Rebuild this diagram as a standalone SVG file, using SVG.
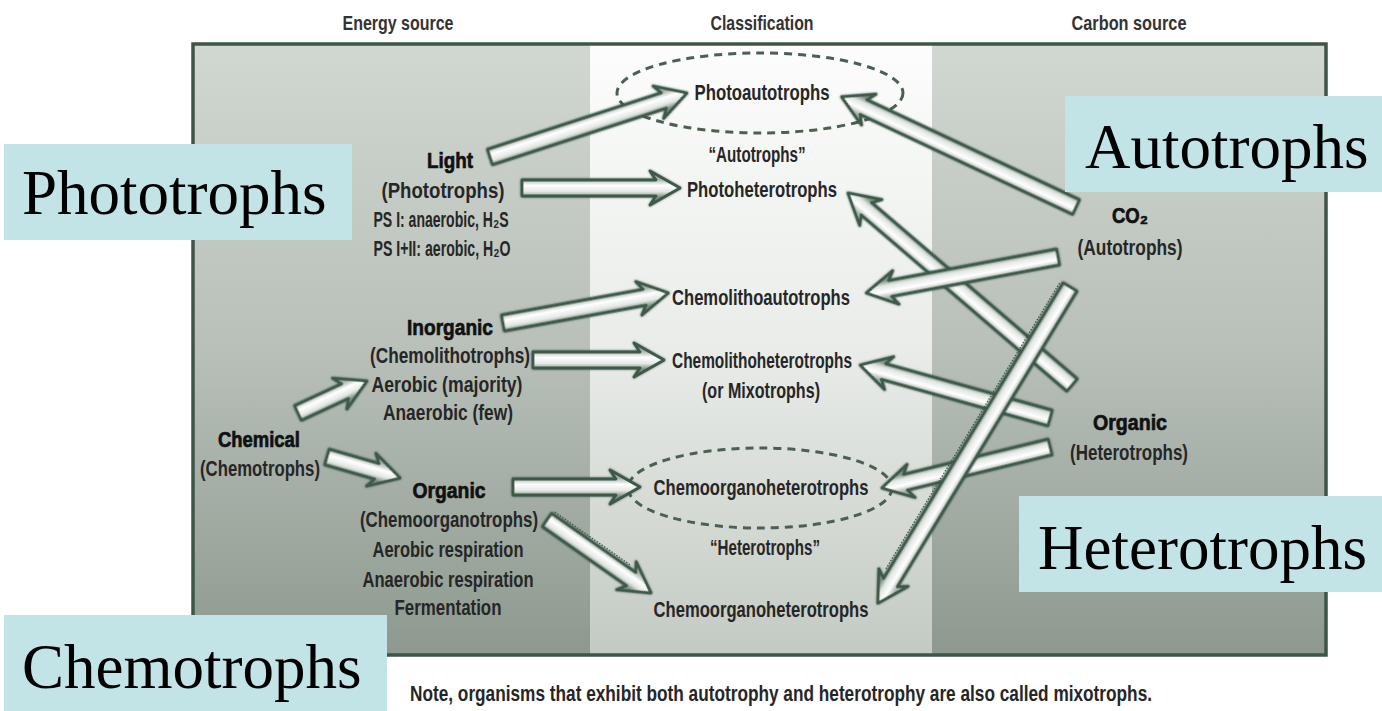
<svg xmlns="http://www.w3.org/2000/svg" width="1382" height="711" viewBox="0 0 1382 711">
<defs>
<linearGradient id="gSide" x1="0" y1="0" x2="0" y2="1">
<stop offset="0" stop-color="#d1d7d1"/>
<stop offset="0.5" stop-color="#b8c0b9"/>
<stop offset="1" stop-color="#8d998f"/>
</linearGradient>
<linearGradient id="gMid" x1="0" y1="0" x2="0" y2="1">
<stop offset="0" stop-color="#fcfdfc"/>
<stop offset="0.5" stop-color="#e9ece9"/>
<stop offset="1" stop-color="#c3cac3"/>
</linearGradient>
<linearGradient id="gArrow" gradientUnits="userSpaceOnUse" x1="0" y1="-9" x2="0" y2="9">
<stop offset="0" stop-color="#a3afa6"/>
<stop offset="0.35" stop-color="#ffffff"/>
<stop offset="0.7" stop-color="#e3e8e4"/>
<stop offset="1" stop-color="#7f8f84"/>
</linearGradient>
<filter id="sh" x="-10%" y="-30%" width="120%" height="160%">
<feDropShadow dx="0" dy="0" stdDeviation="1.2" flood-color="#2d4437" flood-opacity="0.8"/>
</filter>
</defs>
<style>
.arr{fill:url(#gArrow);stroke:#3d5a4a;stroke-width:2.8;stroke-linejoin:round;filter:url(#sh)}
.dot{fill:none;stroke:#3d5a4a;stroke-width:1.3;stroke-dasharray:1.5 1.5}
.ell{fill:none;stroke:#4b6052;stroke-width:3;stroke-dasharray:8 6}
.t{font-family:"Liberation Sans Narrow","Liberation Sans",Arial,sans-serif;font-size:22.5px;font-weight:bold;fill:#262626;text-anchor:middle}
.b{font-family:"Liberation Sans Narrow","Liberation Sans",Arial,sans-serif;font-size:22.5px;font-weight:bold;fill:#111;stroke:#111;stroke-width:0.7;text-anchor:middle}
.h{font-family:"Liberation Sans Narrow","Liberation Sans",Arial,sans-serif;font-size:21px;font-weight:bold;fill:#333;text-anchor:middle}
.lbl{fill:#c3e4e7}
.big{font-family:"Liberation Serif","Times New Roman",serif;font-size:63px;fill:#000}
</style>
<rect x="0" y="0" width="1382" height="711" fill="#ffffff"/>

<g id="frame">
<rect x="193" y="44" width="397" height="611" fill="url(#gSide)"/>
<rect x="590" y="44" width="342" height="611" fill="url(#gMid)"/>
<rect x="932" y="44" width="394" height="611" fill="url(#gSide)"/>
<rect x="193" y="44" width="1133" height="611" fill="none" stroke="#3c5647" stroke-width="3.5"/>
</g>

<g id="headers">
<text class="h" x="398" y="30" textLength="111" lengthAdjust="spacingAndGlyphs">Energy source</text>
<text class="h" x="762" y="30" textLength="103" lengthAdjust="spacingAndGlyphs">Classification</text>
<text class="h" x="1129" y="30" textLength="115" lengthAdjust="spacingAndGlyphs">Carbon source</text>
</g>

<g id="ellipse-autotrophs"><ellipse class="ell" cx="760" cy="93" rx="143" ry="40"/></g>
<g id="ellipse-heterotrophs"><ellipse class="ell" cx="760" cy="488" rx="132" ry="40"/></g>

<g id="connectors">
<g transform="translate(490,157) rotate(-18)"><path class="arr" d="M0,-8 H183 L177,-17 L207,0 L177,17 L183,8 H0 Z"/></g>
<g transform="translate(522,188)"><path class="arr" d="M0,-8 H134 L128,-17 L158,0 L128,17 L134,8 H0 Z"/></g>
<g transform="translate(1076,207) rotate(-154.82)"><path class="arr" d="M0,-8 H235 L229,-17 L259,0 L229,17 L235,8 H0 Z"/></g>
<g transform="translate(1072,385) rotate(-139.4)"><path class="arr" d="M0,-8 H271 L265,-17 L295,0 L265,17 L271,8 H0 Z"/></g>
<g transform="translate(1050,418) rotate(-164.41)"><path class="arr" d="M0,-8 H173 L167,-17 L197,0 L167,17 L173,8 H0 Z"/></g>
<g transform="translate(1050,447) rotate(166.29)"><path class="arr" d="M0,-8 H149 L143,-17 L173,0 L143,17 L149,8 H0 Z"/></g>
<g transform="translate(1058,257) rotate(169.38)"><path class="arr" d="M0,-8 H171 L165,-17 L195,0 L165,17 L171,8 H0 Z"/></g>
<g transform="translate(1070,287) rotate(121.28)"><path class="arr" d="M0,-8 H346 L340,-17 L370,0 L340,17 L346,8 H0 Z"/><line class="dot" x1="2" y1="11" x2="338" y2="11"/></g>
<g transform="translate(503,323) rotate(-10.3)"><path class="arr" d="M0,-8 H144 L138,-17 L168,0 L138,17 L144,8 H0 Z"/></g>
<g transform="translate(533,360)"><path class="arr" d="M0,-8 H107 L101,-17 L131,0 L101,17 L107,8 H0 Z"/></g>
<g transform="translate(298,413) rotate(-24.88)"><path class="arr" d="M0,-8 H52 L46,-17 L76,0 L46,17 L52,8 H0 Z"/></g>
<g transform="translate(327,457) rotate(16.05)"><path class="arr" d="M0,-8 H52 L46,-17 L76,0 L46,17 L52,8 H0 Z"/></g>
<g transform="translate(513,487)"><path class="arr" d="M0,-8 H103 L97,-17 L127,0 L97,17 L103,8 H0 Z"/></g>
<g transform="translate(547,520) rotate(35.07)"><path class="arr" d="M0,-8 H103 L97,-17 L127,0 L97,17 L103,8 H0 Z"/><line class="dot" x1="2" y1="-11" x2="95" y2="-11"/></g>
</g>

<g id="node-light">
<text class="b" x="450" y="168" textLength="46" lengthAdjust="spacingAndGlyphs">Light</text>
<text class="t" x="443" y="198" textLength="123" lengthAdjust="spacingAndGlyphs">(Phototrophs)</text>
<text class="t" x="441" y="227" textLength="135" lengthAdjust="spacingAndGlyphs">PS I: anaerobic, H₂S</text>
<text class="t" x="442" y="256" textLength="137" lengthAdjust="spacingAndGlyphs">PS I+II: aerobic, H₂O</text>
</g>

<g id="node-inorganic">
<text class="b" x="450" y="335" textLength="86" lengthAdjust="spacingAndGlyphs">Inorganic</text>
<text class="t" x="450" y="363" textLength="160" lengthAdjust="spacingAndGlyphs">(Chemolithotrophs)</text>
<text class="t" x="447" y="392" textLength="151" lengthAdjust="spacingAndGlyphs">Aerobic (majority)</text>
<text class="t" x="448" y="420" textLength="130" lengthAdjust="spacingAndGlyphs">Anaerobic (few)</text>
</g>

<g id="node-chemical">
<text class="b" x="259" y="447" textLength="82" lengthAdjust="spacingAndGlyphs">Chemical</text>
<text class="t" x="260" y="476" textLength="120" lengthAdjust="spacingAndGlyphs">(Chemotrophs)</text>
</g>

<g id="node-organic-energy">
<text class="b" x="449" y="498" textLength="73" lengthAdjust="spacingAndGlyphs">Organic</text>
<text class="t" x="449" y="527" textLength="178" lengthAdjust="spacingAndGlyphs">(Chemoorganotrophs)</text>
<text class="t" x="448" y="557" textLength="151" lengthAdjust="spacingAndGlyphs">Aerobic respiration</text>
<text class="t" x="448" y="587" textLength="171" lengthAdjust="spacingAndGlyphs">Anaerobic respiration</text>
<text class="t" x="448" y="615" textLength="107" lengthAdjust="spacingAndGlyphs">Fermentation</text>
</g>

<g id="node-photoautotrophs">
<text class="t" x="762" y="100" textLength="135" lengthAdjust="spacingAndGlyphs">Photoautotrophs</text>
<text class="t" x="757" y="162" textLength="97" lengthAdjust="spacingAndGlyphs">“Autotrophs”</text>
</g>
<g id="node-photoheterotrophs">
<text class="t" x="762" y="197" textLength="150" lengthAdjust="spacingAndGlyphs">Photoheterotrophs</text>
</g>
<g id="node-chemolithoautotrophs">
<text class="t" x="761" y="305" textLength="178" lengthAdjust="spacingAndGlyphs">Chemolithoautotrophs</text>
</g>
<g id="node-chemolithoheterotrophs">
<text class="t" x="762" y="368" textLength="180" lengthAdjust="spacingAndGlyphs">Chemolithoheterotrophs</text>
<text class="t" x="761" y="398" textLength="118" lengthAdjust="spacingAndGlyphs">(or Mixotrophs)</text>
</g>
<g id="node-chemoorganoheterotrophs-1">
<text class="t" x="761" y="495" textLength="215" lengthAdjust="spacingAndGlyphs">Chemoorganoheterotrophs</text>
<text class="t" x="765" y="555" textLength="110" lengthAdjust="spacingAndGlyphs">“Heterotrophs”</text>
</g>
<g id="node-chemoorganoheterotrophs-2">
<text class="t" x="761" y="617" textLength="215" lengthAdjust="spacingAndGlyphs">Chemoorganoheterotrophs</text>
</g>

<g id="node-co2">
<text class="b" x="1130" y="223" textLength="36" lengthAdjust="spacingAndGlyphs">CO₂</text>
<text class="t" x="1130" y="255" textLength="105" lengthAdjust="spacingAndGlyphs">(Autotrophs)</text>
</g>
<g id="node-organic-carbon">
<text class="b" x="1130" y="430" textLength="74" lengthAdjust="spacingAndGlyphs">Organic</text>
<text class="t" x="1129" y="460" textLength="118" lengthAdjust="spacingAndGlyphs">(Heterotrophs)</text>
</g>

<g id="note">
<text class="t" x="781" y="701" font-size="20" textLength="742" lengthAdjust="spacingAndGlyphs">Note, organisms that exhibit both autotrophy and heterotrophy are also called mixotrophs.</text>
</g>

<g id="label-phototrophs">
<rect class="lbl" x="4" y="144" width="348" height="96"/>
<text class="big" x="22" y="214">Phototrophs</text>
</g>
<g id="label-autotrophs">
<rect class="lbl" x="1065" y="96" width="317" height="96"/>
<text class="big" x="1085" y="168">Autotrophs</text>
</g>
<g id="label-heterotrophs">
<rect class="lbl" x="1019" y="496" width="363" height="96"/>
<text class="big" x="1038" y="569">Heterotrophs</text>
</g>
<g id="label-chemotrophs">
<rect class="lbl" x="4" y="615" width="383" height="96"/>
<text class="big" x="22" y="688">Chemotrophs</text>
</g>
</svg>
